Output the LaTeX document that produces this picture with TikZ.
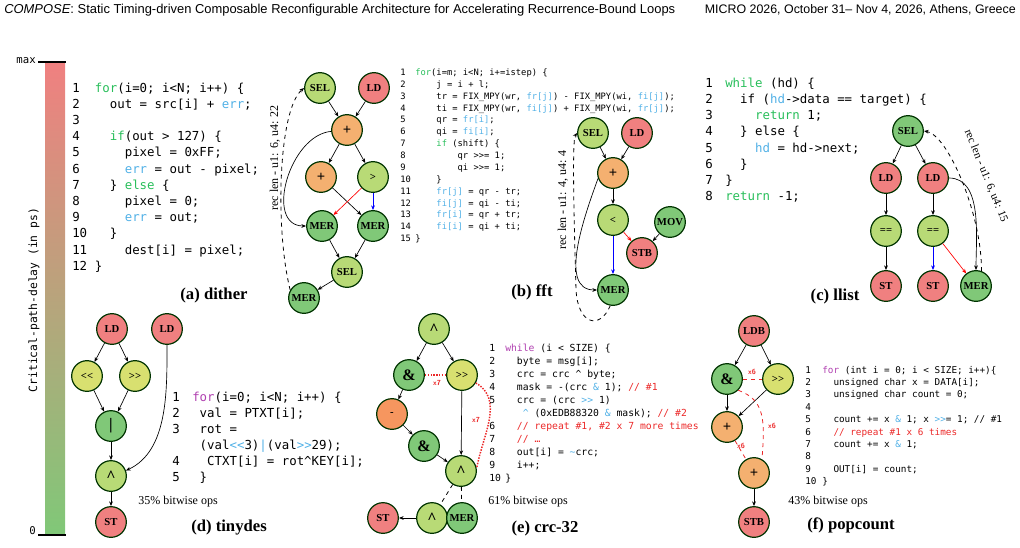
\documentclass[tikz,border=0pt]{standalone}
\usepackage{fontspec}
\usepackage{array}
\setmainfont{Liberation Serif}
\newfontfamily\hdfont{Liberation Sans}
\newfontfamily\cmono{DejaVu Sans Mono}
\usetikzlibrary{arrows.meta,calc}
\definecolor{cred}{RGB}{240,128,128}
\definecolor{cora}{RGB}{244,176,112}
\definecolor{clg}{RGB}{184,218,118}
\definecolor{cgr}{RGB}{128,200,120}
\definecolor{cyl}{RGB}{216,224,112}
\definecolor{bary}{RGB}{232,222,112}
\definecolor{kwg}{RGB}{40,190,90}
\definecolor{kwp}{RGB}{176,64,176}
\definecolor{vbc}{RGB}{80,176,230}
\definecolor{redc}{RGB}{235,40,40}
\newcommand{\kg}[1]{\textcolor{kwg}{#1}}
\newcommand{\kp}[1]{\textcolor{kwp}{#1}}
\newcommand{\vb}[1]{\textcolor{vbc}{#1}}
\newcommand{\rc}[1]{\textcolor{redc}{#1}}
\tikzset{
 op/.style={circle,draw=black!80!green,line width=0.9pt,minimum size=23pt,inner sep=0pt,font=\fontsize{8}{9}\selectfont\bfseries},
 R/.style={op,fill=cred}, O/.style={op,fill=cora}, LG/.style={op,fill=clg},
 G/.style={op,fill=cgr}, Y/.style={op,fill=cyl},
 e/.style={-{Stealth[length=3.5pt,width=2.8pt]},line width=0.5pt},
 dsh/.style={dashed,line width=0.6pt},
 rd/.style={color=redc,densely dotted,line width=1.1pt},
 rdd/.style={color=redc,dashed,line width=0.6pt},
 codeb/.style={anchor=base west,inner sep=0pt},
 capt/.style={font=\fontsize{12.5}{14}\selectfont\bfseries},
 pct/.style={font=\fontsize{9}{10}\selectfont},
 xl/.style={color=redc,font=\fontsize{5.5}{6}\selectfont\bfseries\sffamily},
 rl/.style={font=\fontsize{9}{10}\selectfont,inner sep=1pt}
}
\newcommand{\shl}{{<}{<}}
\newcommand{\shr}{{>}{>}}
\newcommand{\pl}{{\fontsize{11}{11}\selectfont +}}
\newcommand{\xo}{{\large\textasciicircum}}
\begin{document}
\begin{tikzpicture}[x=0.75pt,y=-0.75pt]
\useasboundingbox (0,0) rectangle (1020,547);
% header
\node[anchor=west,inner sep=0pt,font=\hdfont\fontsize{9.7}{10}\selectfont] (hl) at (4,10) {\textit{COMPOSE}: Static Timing-driven Composable Reconfigurable Architecture for Accelerating Recurrence-Bound Loops};
\node[anchor=east,inner sep=0pt,font=\hdfont\fontsize{9.3}{10}\selectfont] (hr) at (1016,10) {MICRO 2026, October 31– Nov 4, 2026, Athens, Greece};
% colour bar
\shade[top color=cred,middle color=bary,bottom color=cgr] (45,62) rectangle (65,535);
\draw[line width=1.2pt] (38,62) -- (66,62);
\draw[line width=1.2pt] (38,535) -- (66,535);
\node[anchor=east,inner sep=0pt,font=\cmono\fontsize{8}{9}\selectfont] (mx) at (36,61) {max};
\node[anchor=east,inner sep=0pt,font=\cmono\fontsize{8}{9}\selectfont] (zr) at (36,531) {0};
\node[rotate=90,inner sep=0pt,font=\cmono\fontsize{8.5}{9}\selectfont] (bl) at (34,300) {Critical-path-delay (in ps)};

% (a) code
\node[codeb] (ca) at (72,92) {\cmono\fontsize{9.3}{12.15}\selectfont
\begin{tabular}[t]{@{}p{17pt}@{}l@{}}
1 & \kg{for}(i=0; i<N; i++) \{\\
2 & ~~out = src[i] + \vb{err};\\
3 & \\
4 & ~~\kg{if}(out > 127) \{\\
5 & ~~~~pixel = 0xFF;\\
6 & ~~~~\vb{err} = out - pixel;\\
7 & ~~\} \kg{else} \{\\
8 & ~~~~pixel = 0;\\
9 & ~~~~\vb{err} = out;\\
10 & ~~\}\\
11 & ~~~~dest[i] = pixel;\\
12 & \}
\end{tabular}};
% (a) graph
\node[LG] (asel) at (320,88) {SEL};
\node[R] (ald) at (374,88) {LD};
\node[O] (aadd) at (347,130) {\pl};
\node[O] (aadd2) at (321,177) {\pl};
\node[LG] (agt) at (373,177) {>};
\node[G] (amer1) at (322,226) {MER};
\node[G] (amer2) at (373,226) {MER};
\node[LG] (asel2) at (347,272) {SEL};
\node[G] (amer3) at (304,298) {MER};
\draw[e] (asel) -- (aadd); \draw[e] (ald) -- (aadd);
\draw[e] (aadd) -- (aadd2); \draw[e] (aadd) -- (agt);
\draw[e] (aadd.185) to[out=185,in=180,looseness=1.1] (amer1.west);
\draw[e] (aadd2) -- (amer2);
\draw[e,red] (agt) -- (amer1);
\draw[e,blue] (agt) -- (amer2);
\draw[e] (amer1) -- (asel2); \draw[e] (amer2) -- (asel2);
\draw[e] (asel2) -- (amer3);
\draw[dsh,-{Stealth[length=3.5pt,width=2.8pt]}] (amer3.150) .. controls (275,230) and (278,110) .. (asel.180);
\node[rl,rotate=90] (arl) at (275,158) {rec len - u1: 6, u4: 22};
\node[capt] (acap) at (214,295) {(a) dither};

% (b) code
\node[codeb] (cb) at (400,75.5) {\cmono\fontsize{6.6}{8.9}\selectfont
\begin{tabular}[t]{@{}p{11.25pt}@{}l@{}}
1 & \kg{for}(i=m; i<N; i+=istep) \{\\
2 & ~~~~j = i + l;\\
3 & ~~~~tr = FIX\_MPY(wr, \vb{fr[j]}) - FIX\_MPY(wi, \vb{fi[j]});\\
4 & ~~~~ti = FIX\_MPY(wr, \vb{fi[j]}) + FIX\_MPY(wi, \vb{fr[j]});\\
5 & ~~~~qr = \vb{fr[i]};\\
6 & ~~~~qi = \vb{fi[i]};\\
7 & ~~~~\kg{if} (shift) \{\\
8 & ~~~~~~~~qr >>= 1;\\
9 & ~~~~~~~~qi >>= 1;\\
10 & ~~~~\}\\
11 & ~~~~\vb{fr[j]} = qr - tr;\\
12 & ~~~~\vb{fi[j]} = qi - ti;\\
13 & ~~~~\vb{fr[i]} = qr + tr;\\
14 & ~~~~\vb{fi[i]} = qi + ti;\\
15 & \}
\end{tabular}};
\node[LG] (bsel) at (593,133) {SEL};
\node[R] (bld) at (637,133) {LD};
\node[O] (badd) at (613,173) {\pl};
\node[LG] (blt) at (613,220) {<};
\node[G] (bmov) at (670,222) {MOV};
\node[R] (bstb) at (642,253) {STB};
\node[G] (bmer) at (613,290) {MER};
\draw[e] (bsel) -- (badd); \draw[e] (bld) -- (badd);
\draw[e] (badd) -- (blt);
\draw[e,red] (blt) -- (bstb);
\draw[e] (bmov) -- (bstb);
\draw[e,blue] (blt) -- (bmer);
\draw[e] (badd.200) to[out=250,in=180,looseness=0.9] (bmer.west);
\draw[dsh,-{Stealth[length=3.5pt,width=2.8pt]}] (bmer.260) .. controls (600,330) and (578,325) .. (576,290) .. controls (574,220) and (572,140) .. (bsel.180);
\node[rl,rotate=90] (brl) at (563,200) {rec len - u1: 4, u4: 4};
\node[capt] (bcap) at (532,292) {(b) fft};

% (c) code
\node[codeb] (cc) at (705,87) {\cmono\fontsize{9.3}{12.2}\selectfont
\begin{tabular}[t]{@{}p{15pt}@{}l@{}}
1 & \kg{while} (hd) \{\\
2 & ~~if (\vb{hd}->data == target) \{\\
3 & ~~~~\kg{return} 1;\\
4 & ~~\} else \{\\
5 & ~~~~\vb{hd} = hd->next;\\
6 & ~~\}\\
7 & \}\\
8 & \kg{return} -1;
\end{tabular}};
\node[G] (csel) at (908,131) {SEL};
\node[R] (cld1) at (886,178) {LD};
\node[R] (cld2) at (933,178) {LD};
\node[LG] (ceq1) at (886,231) {==};
\node[LG] (ceq2) at (933,231) {==};
\node[R] (cst1) at (886,286) {ST};
\node[R] (cst2) at (933,286) {ST};
\node[G] (cmer) at (976,286) {MER};
\draw[e] (csel) -- (cld1); \draw[e] (csel) -- (cld2);
\draw[e] (cld1) -- (ceq1); \draw[e] (cld2) -- (ceq2);
\draw[e] (ceq1) -- (cst1);
\draw[e,blue] (ceq2) -- (cst2);
\draw[e,red] (ceq2) -- (cmer);
\draw[e] (cld2.east) to[out=0,in=90,looseness=0.9] (cmer.north);
\draw[dsh,-{Stealth[length=3.5pt,width=2.8pt]}] (cmer.70) .. controls (982,215) and (948,135) .. (csel.east);
\node[rl,rotate=-68,font=\fontsize{8.5}{9}\selectfont] (crl) at (986,176) {rec len - u1: 6, u4: 15};
\node[capt] (ccap) at (835,296) {(c) llist};

% (d)
\node[R] (dld1) at (112,329) {LD};
\node[R] (dld2) at (167,329) {LD};
\node[Y] (dll) at (87,376) {\shl};
\node[Y] (drr) at (135,376) {\shr};
\node[G] (dor) at (111,426) {\large|};
\node[LG] (dxor) at (111,476) {\xo};
\node[R] (dst) at (111,522) {ST};
\draw[e] (dld1) -- (dll); \draw[e] (dld1) -- (drr);
\draw[e] (dll) -- (dor); \draw[e] (drr) -- (dor);
\draw[e] (dor) -- (dxor);
\draw[e] (dld2.south) to[out=270,in=25,looseness=0.9] (dxor.20);
\draw[e] (dxor) -- (dst);
\node[codeb] (cd) at (172,401) {\cmono\fontsize{9.3}{12}\selectfont
\begin{tabular}[t]{@{}p{15pt}@{}l@{}}
1 & \kp{for}(i=0; i<N; i++) \{\\
2 & ~val = PTXT[i];\\
3 & ~rot =\\
  & ~(val\vb{<<}3)\vb{|}(val\vb{>>}29);\\
4 & ~~CTXT[i] = rot\textasciicircum KEY[i];\\
5 & ~\}
\end{tabular}};
\node[pct] (dp) at (178,502) {35\% bitwise ops};
\node[capt] (dcap) at (229,528) {(d) tinydes};

% (e)
\node[LG] (ex1) at (434,329) {\xo};
\node[G] (eand1) at (409,375) {\large\&};
\node[Y] (esh) at (462,375) {\shr};
\node[op,fill=cora!85!red] (eneg) at (392,414) {-};
\node[G] (eand2) at (424,446) {\large\&};
\node[LG] (ex2) at (461,471) {\xo};
\node[R] (est) at (383,518) {ST};
\node[LG] (ex3) at (432,518) {\xo};
\node[G] (emer) at (462,518) {MER};
\draw[e] (ex1) -- (eand1); \draw[e] (ex1) -- (esh);
\draw[e] (eand1) -- (eneg); \draw[e] (eneg) -- (eand2);
\draw[e] (eand2) -- (ex2); \draw[e] (esh) -- (ex2);
\draw[dsh] (ex2) -- (ex3); \draw[dsh] (ex2) -- (emer);
\draw[e] (ex3) -- (est);
\draw[rd] (eand1) -- (esh);
\draw[rd] (esh.-30) to[out=-30,in=80] (ex2.10);
\node[xl] (ex7a) at (437,383) {x7};
\node[xl] (ex7b) at (476,420) {x7};
\node[codeb] (ce) at (489,351.5) {\cmono\fontsize{7.3}{9.75}\selectfont
\begin{tabular}[t]{@{}p{12pt}@{}l@{}}
1 & \kp{while} (i < SIZE) \{\\
2 & ~~byte = msg[i];\\
3 & ~~crc = crc \textasciicircum\ byte;\\
4 & ~~mask = -(crc \vb{\&} 1); \rc{// \#1}\\
5 & ~~crc = (crc \vb{>>} 1)\\
  & ~~~\vb{\textasciicircum} (0xEDB88320 \vb{\&} mask); \rc{// \#2}\\
6 & ~~\rc{// repeat \#1, \#2 x 7 more times}\\
7 & ~~\rc{// …}\\
8 & ~~out[i] = \vb{\textasciitilde}crc;\\
9 & ~~i++;\\
10 & \}
\end{tabular}};
\node[pct] (ep) at (528,502) {61\% bitwise ops};
\node[capt] (ecap) at (545,528) {(e) crc-32};

% (f)
\node[R] (fldb) at (754,331) {LDB};
\node[G] (fand) at (727,379) {\large\&};
\node[Y] (fsh) at (778,379) {\shr};
\node[O] (fadd1) at (727,427) {\pl};
\node[O] (fadd2) at (754,473) {\pl};
\node[R] (fstb) at (754,522) {STB};
\draw[e] (fldb) -- (fand); \draw[e] (fldb) -- (fsh);
\draw[e] (fand) -- (fadd1); \draw[e] (fsh) -- (fadd1);
\draw[e] (fadd2) -- (fstb);
\draw[rdd] (fand) -- (fsh);
\draw[rdd] (fand.-45) .. controls (765,400) and (765,420) .. (fadd2.60);
\draw[rdd] (fadd1) -- (fadd2);
\node[xl] (fx6a) at (752,372) {x6};
\node[xl] (fx6b) at (772,426) {x6};
\node[xl] (fx6c) at (741,446) {x6};
\node[codeb] (cf) at (805,373) {\cmono\fontsize{7}{9.3}\selectfont
\begin{tabular}[t]{@{}p{12.75pt}@{}l@{}}
1 & \kp{for} (int i = 0; i < SIZE; i++)\{\\
2 & ~~unsigned char x = DATA[i];\\
3 & ~~unsigned char count = 0;\\
4 & \\
5 & ~~count += x \vb{\&} 1; x \vb{>>}= 1; // \#1\\
6 & ~~\rc{// repeat \#1 x 6 times}\\
7 & ~~count += x \vb{\&} 1;\\
8 & \\
9 & ~~OUT[i] = count;\\
10 & \}
\end{tabular}};
\node[pct] (fp) at (828,502) {43\% bitwise ops};
\node[capt] (fcap) at (851,525) {(f) popcount};
\end{tikzpicture}
\end{document}
